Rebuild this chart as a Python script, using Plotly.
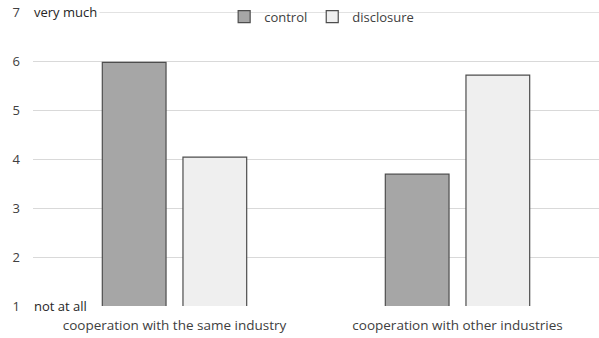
import plotly.graph_objects as go

categories = ["cooperation with the same industry", "cooperation with other industries"]
control = [5.97, 3.69]
disclosure = [4.04, 5.71]
y_ticks = [1, 2, 3, 4, 5, 6, 7]
y_tick_text = ["1", "2", "3", "4", "5", "6", "7"]
scale_low = "not at all"
scale_high = "very much"

font_family = "Open Sans, Liberation Sans, Arial, sans-serif"
text_color = "#404040"
grid_color = "#d9d9d9"

fig = go.Figure()
fig.add_trace(go.Bar(
    name="control", x=categories, y=control,
    marker=dict(color="#a6a6a6", line=dict(color="#4d4d4d", width=1.2)),
))
fig.add_trace(go.Bar(
    name="disclosure", x=categories, y=disclosure,
    marker=dict(color="#efefef", line=dict(color="#4d4d4d", width=1.2)),
))

# top gridline sits on the range edge, so draw it explicitly
fig.add_shape(
    type="line", xref="paper", x0=0, x1=1, yref="y", y0=y_ticks[-1], y1=y_ticks[-1],
    line=dict(color=grid_color, width=1.3), layer="below",
)

# verbal anchors for both ends of the rating scale
for yv, label in [(y_ticks[-1], scale_high), (y_ticks[0], scale_low)]:
    fig.add_annotation(
        x=0, xref="paper", y=yv, yref="y", text=label, showarrow=False,
        xanchor="left", yanchor="middle", xshift=-2,
        bgcolor="white", borderpad=2,
        font=dict(family=font_family, size=13, color="#262626"),
    )

fig.update_layout(
    width=599, height=338,
    margin=dict(l=33, r=0, t=12, b=32),
    paper_bgcolor="white", plot_bgcolor="white",
    barmode="group", bargap=0.43, bargroupgap=0.21,
    font=dict(family=font_family, size=13, color=text_color),
    showlegend=True,
    legend=dict(
        orientation="h", x=0.51, xanchor="center", y=1.035, yanchor="top",
        bgcolor="rgba(0,0,0,0)", font=dict(size=13, color="#404040"),
        itemwidth=30, tracegroupgap=0,
    ),
)
fig.update_xaxes(
    showgrid=False, showline=False, ticks="",
    ticklabelstandoff=9,
    tickfont=dict(size=13.5, color="#404040"),
)
fig.update_yaxes(
    range=[1, 7], tickvals=y_ticks, ticktext=y_tick_text,
    showgrid=True, gridcolor=grid_color, gridwidth=1.3,
    zeroline=False, showline=False, ticks="",
    ticklabelstandoff=12,
    tickfont=dict(size=13, color="#404040"),
)

fig.write_html("out.html")
